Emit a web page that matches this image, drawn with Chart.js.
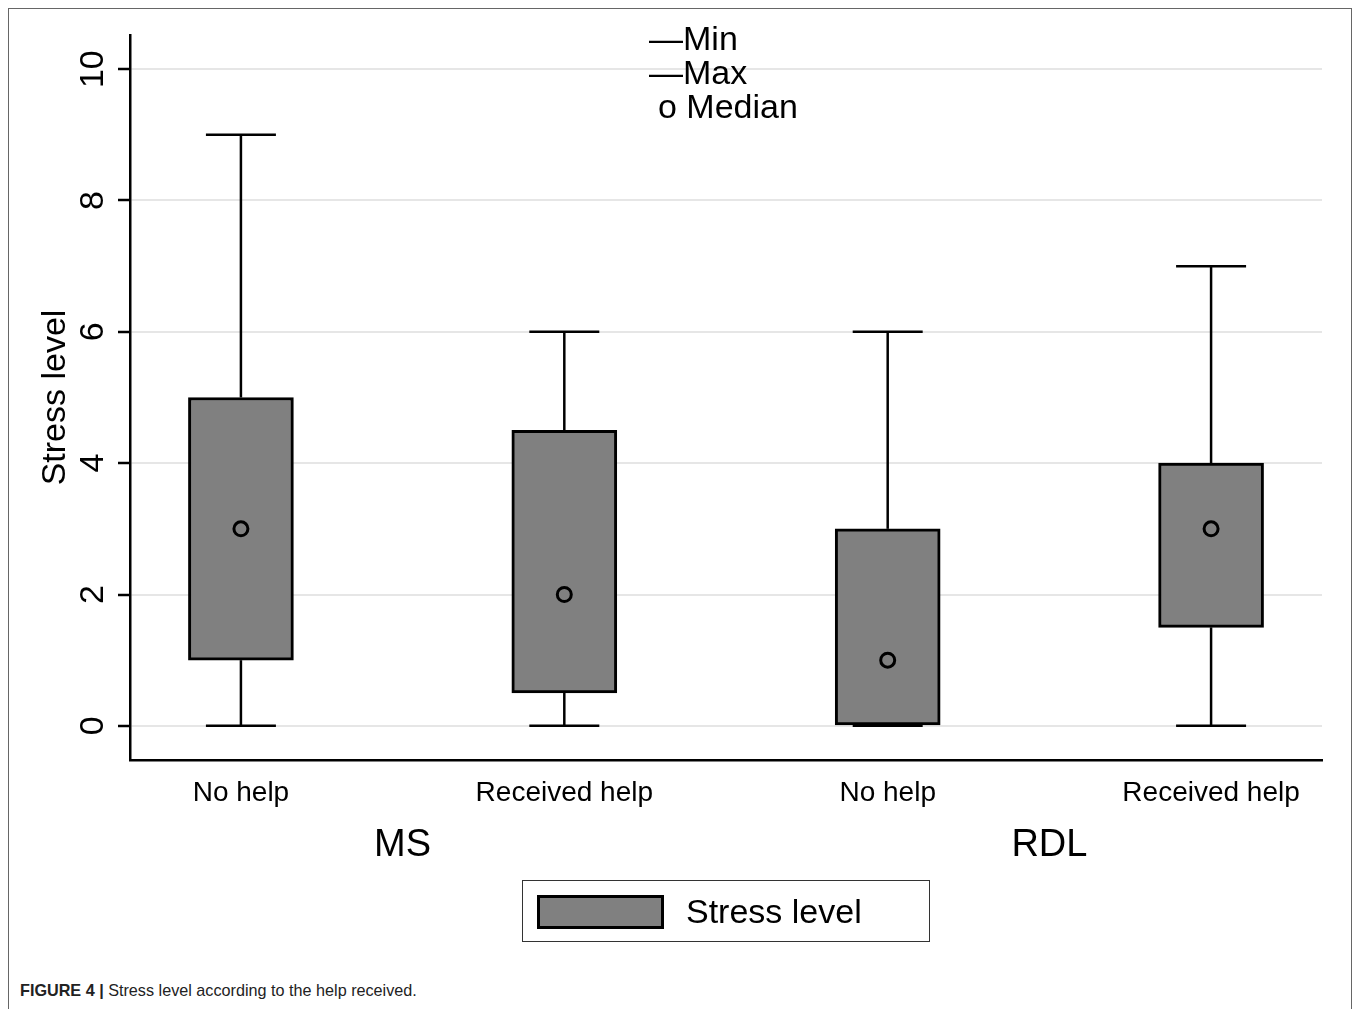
<!DOCTYPE html>
<html>
<head>
<meta charset="utf-8">
<script src="https://cdn.jsdelivr.net/npm/chart.js@4/dist/chart.umd.min.js"></script>
<style>
  html, body { margin: 0; padding: 0; background: #fff; }
  body { width: 1358px; height: 1009px; position: relative; overflow: hidden; font-family: "Liberation Sans", Arial, sans-serif; }
  #frame { position: absolute; left: 8px; top: 8px; width: 1344px; height: 1020px; border: 1.5px solid #666; box-sizing: border-box; }
  #wrap { position: absolute; left: 9px; top: 9px; width: 1344px; height: 960px; }
  .kl { position: absolute; font-size: 34px; color: #000; line-height: 34px; white-space: pre; }
  #legend { position: absolute; left: 522px; top: 880px; width: 408px; height: 62px; border: 1.5px solid #333; box-sizing: border-box; }
  #swatch { position: absolute; left: 14px; top: 14px; width: 127px; height: 34px; background: #808080; border: 3px solid #000; box-sizing: border-box; }
  #legtxt { position: absolute; left: 163px; top: 11px; font-size: 34px; line-height: 38px; }
  #caption { position: absolute; left: 20px; top: 981px; font-size: 16.2px; color: #222; }
</style>
</head>
<body>
<div id="frame"></div>
<div id="wrap"><canvas id="c"></canvas></div>
<div class="kl" style="left:649px;top:21px">—Min</div>
<div class="kl" style="left:649px;top:55px">—Max</div>
<div class="kl" style="left:658px;top:89px">o Median</div>
<div id="legend"><div id="swatch"></div><div id="legtxt">Stress level</div></div>
<div id="caption"><b>FIGURE 4 |</b> Stress level according to the help received.</div>
<script>
(function () {
  'use strict';

  // ── datos ──
  var groups = ['MS', 'RDL'];
  var categories = ['No help', 'Received help', 'No help', 'Received help'];
  var mins = [0, 0, 0, 0];
  var maxs = [9, 6, 6, 7];
  var q1s = [1, 0.5, 0, 1.5];
  var q3s = [5, 4.5, 3, 4];
  var medians = [3, 2, 1, 3];
  var yTicks = [0, 2, 4, 6, 8, 10];

  var FONT = '"Liberation Sans", Arial, sans-serif';

  // bigotes + etiquetas de eje y de grupo
  var boxExtras = {
    id: 'boxExtras',
    beforeDatasetsDraw: function (chart) {
      var ctx = chart.ctx, xs = chart.scales.x, ys = chart.scales.y;
      ctx.save();
      ctx.strokeStyle = '#000';
      ctx.lineWidth = 2.5;
      for (var i = 0; i < categories.length; i++) {
        var x = xs.getPixelForValue(i + 1);
        var capHalf = 35;
        [[q3s[i], maxs[i]], [q1s[i], mins[i]]].forEach(function (w) {
          var a = ys.getPixelForValue(w[0]), b = ys.getPixelForValue(w[1]);
          ctx.beginPath(); ctx.moveTo(x, a); ctx.lineTo(x, b); ctx.stroke();
          ctx.beginPath(); ctx.moveTo(x - capHalf, b); ctx.lineTo(x + capHalf, b); ctx.stroke();
        });
      }
      ctx.restore();
    },
    afterDraw: function (chart) {
      var ctx = chart.ctx, xs = chart.scales.x, ys = chart.scales.y, ca = chart.chartArea;
      ctx.save();
      ctx.fillStyle = '#000';
      // etiquetas del eje y (rotadas, estilo Stata)
      ctx.font = '34px ' + FONT;
      ctx.textAlign = 'center'; ctx.textBaseline = 'middle';
      ys.ticks.forEach(function (t) {
        var py = ys.getPixelForValue(t.value);
        ctx.save(); ctx.translate(ca.left - 36, py); ctx.rotate(-Math.PI / 2);
        ctx.fillText(String(t.value), 0, 0); ctx.restore();
      });
      // grupos MS / RDL
      ctx.font = '38px ' + FONT;
      groups.forEach(function (g, k) {
        ctx.fillText(g, xs.getPixelForValue(2 * k + 1.5), ca.bottom + 86);
      });
      ctx.restore();
    }
  };

  new Chart(document.getElementById('c').getContext('2d'), {
    data: {
      datasets: [
        { type: 'bar', order: 1, data: categories.map(function (c, i) { return { x: i + 1, y: [q1s[i], q3s[i]] }; }),
          backgroundColor: '#808080', borderColor: '#000', borderWidth: 3, borderSkipped: false, barThickness: 105 },
        { type: 'scatter', order: 0, data: medians.map(function (m, i) { return { x: i + 1, y: m }; }),
          pointStyle: 'circle', pointRadius: 7, pointBorderWidth: 3, pointBorderColor: '#000', pointBackgroundColor: 'rgba(0,0,0,0)' }
      ]
    },
    options: {
      responsive: true, maintainAspectRatio: false, animation: false,
      layout: { padding: { left: 0, top: 26, right: 31, bottom: 0 } },
      plugins: { legend: { display: false }, tooltip: { enabled: false } },
      scales: {
        x: {
          type: 'linear', min: 0.657, max: 4.343, offset: false,
          afterBuildTicks: function (s) { s.ticks = categories.map(function (c, i) { return { value: i + 1 }; }); },
          afterFit: function (s) { s.height = 209; },
          grid: { display: false, drawTicks: false, offset: false },
          border: { display: true, color: '#000', width: 2.5 },
          ticks: { padding: 16, color: '#000', font: { size: 28, family: FONT },
            callback: function (v) { return categories[Math.round(v) - 1] || ''; } }
        },
        y: {
          min: -0.52, max: 10.52,
          afterBuildTicks: function (s) { s.ticks = yTicks.map(function (v) { return { value: v }; }); },
          afterFit: function (s) { s.width = 121; },
          grid: { color: '#e6e6e6', lineWidth: 2, tickColor: '#000', tickLength: 12, tickWidth: 2.5 },
          border: { display: true, color: '#000', width: 2.5 },
          ticks: { display: false },
          title: { display: true, text: 'Stress level', color: '#000', font: { size: 34, family: FONT }, padding: { top: 26, bottom: 0 } }
        }
      }
    },
    plugins: [boxExtras]
  });
})();
</script>
</body>
</html>
